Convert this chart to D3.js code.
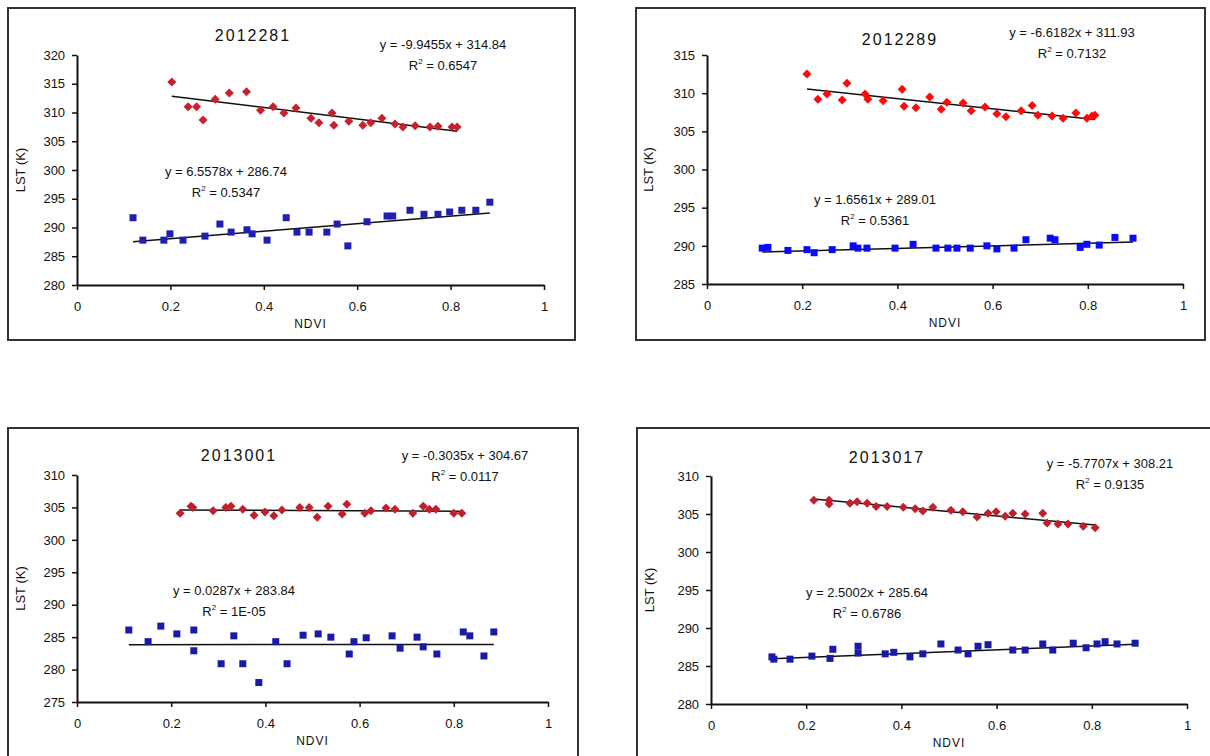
<!DOCTYPE html>
<html>
<head>
<meta charset="utf-8">
<script src="https://cdn.jsdelivr.net/npm/d3@7"></script>
<style>
  body { margin: 0; background: #fff; }
  text { font-family: Arial, "Liberation Sans", sans-serif; fill: #111; }
</style>
</head>
<body>
<script>
// ---- data ----
var titles = ["2012281", "2012289", "2013001", "2013017"];
var xTicks = [0, 0.2, 0.4, 0.6, 0.8, 1];
var yTicks1 = [280, 285, 290, 295, 300, 305, 310, 315, 320];
var yTicks2 = [285, 290, 295, 300, 305, 310, 315];
var yTicks3 = [275, 280, 285, 290, 295, 300, 305, 310];
var yTicks4 = [280, 285, 290, 295, 300, 305, 310];

// trendline coefficients [slope, intercept] and R2 labels
var redFit = [[-9.9455, 314.84], [-6.6182, 311.93], [-0.3035, 304.67], [-5.7707, 308.21]];
var blueFit = [[6.5578, 286.74], [1.6561, 289.01], [0.0287, 283.84], [2.5002, 285.64]];
var redEq = ["y = -9.9455x + 314.84", "y = -6.6182x + 311.93", "y = -0.3035x + 304.67", "y = -5.7707x + 308.21"];
var redR2 = ["0.6547", "0.7132", "0.0117", "0.9135"];
var blueEq = ["y = 6.5578x + 286.74", "y = 1.6561x + 289.01", "y = 0.0287x + 283.84", "y = 2.5002x + 285.64"];
var blueR2 = ["0.5347", "0.5361", "1E-05", "0.6786"];

var red1 = [[0.203,315.3],[0.238,311.0],[0.256,311.0],[0.27,308.7],[0.296,312.3],[0.326,313.4],[0.363,313.6],
  [0.393,310.4],[0.42,311.0],[0.443,309.9],[0.469,310.8],[0.501,309.0],[0.518,308.2],[0.546,309.9],[0.55,307.8],
  [0.582,308.5],[0.612,307.8],[0.629,308.2],[0.653,309.0],[0.681,308.0],[0.698,307.5],[0.724,307.7],[0.756,307.5],
  [0.773,307.6],[0.803,307.5],[0.814,307.5]];
var blue1 = [[0.12,291.7],[0.141,287.8],[0.186,287.8],[0.199,288.9],[0.227,287.8],[0.274,288.5],[0.306,290.6],
  [0.33,289.2],[0.364,289.6],[0.375,288.9],[0.407,287.8],[0.448,291.7],[0.471,289.2],[0.497,289.2],[0.535,289.2],
  [0.557,290.6],[0.58,286.8],[0.621,291.0],[0.664,292.0],[0.676,292.0],[0.713,293.0],[0.743,292.3],[0.773,292.3],
  [0.798,292.7],[0.824,293.0],[0.854,293.0],[0.884,294.4]];
var red2 = [[0.21,312.5],[0.233,309.2],[0.252,309.9],[0.284,309.1],[0.294,311.3],[0.332,309.9],[0.338,309.2],
  [0.37,309.0],[0.41,310.5],[0.414,308.3],[0.439,308.1],[0.468,309.5],[0.492,307.9],[0.504,308.8],[0.538,308.7],
  [0.555,307.7],[0.584,308.2],[0.609,307.3],[0.628,306.9],[0.66,307.7],[0.683,308.4],[0.695,307.1],[0.725,307.0],
  [0.748,306.7],[0.775,307.4],[0.798,306.7],[0.809,307.0],[0.815,307.1]];
var blue2 = [[0.116,289.7],[0.128,289.8],[0.17,289.4],[0.21,289.5],[0.225,289.1],[0.263,289.5],[0.307,290.0],
  [0.317,289.7],[0.336,289.7],[0.395,289.7],[0.433,290.2],[0.481,289.7],[0.506,289.7],[0.525,289.7],[0.553,289.7],
  [0.588,290.0],[0.609,289.6],[0.645,289.7],[0.67,290.8],[0.721,291.0],[0.731,290.8],[0.784,289.8],[0.798,290.2],
  [0.824,290.1],[0.857,291.1],[0.895,291.0]];
var red3 = [[0.219,304.1],[0.242,305.2],[0.246,305.0],[0.289,304.5],[0.316,305.0],[0.327,305.2],[0.352,304.7],
  [0.376,303.8],[0.399,304.3],[0.418,303.7],[0.435,304.6],[0.473,305.0],[0.493,305.0],[0.51,303.5],[0.533,305.2],
  [0.563,304.0],[0.573,305.5],[0.611,304.1],[0.624,304.5],[0.656,304.9],[0.675,304.7],[0.713,304.1],[0.735,305.2],
  [0.748,304.7],[0.762,304.7],[0.8,304.1],[0.817,304.1]];
var blue3 = [[0.11,286.1],[0.151,284.3],[0.178,286.7],[0.212,285.5],[0.248,286.1],[0.248,282.9],[0.306,280.9],
  [0.333,285.2],[0.352,280.9],[0.386,278.0],[0.422,284.3],[0.446,280.9],[0.48,285.3],[0.512,285.5],[0.539,285.0],
  [0.578,282.4],[0.588,284.3],[0.614,284.9],[0.669,285.2],[0.686,283.3],[0.722,285.0],[0.735,283.5],[0.764,282.4],
  [0.82,285.8],[0.834,285.2],[0.864,282.1],[0.885,285.8]];
var red4 = [[0.216,306.8],[0.248,306.8],[0.248,306.3],[0.292,306.4],[0.307,306.6],[0.328,306.4],[0.347,306.0],
  [0.37,306.0],[0.404,305.9],[0.429,305.7],[0.445,305.4],[0.466,305.9],[0.504,305.5],[0.529,305.3],[0.559,304.6],
  [0.582,305.1],[0.599,305.3],[0.618,304.7],[0.634,305.1],[0.66,305.0],[0.697,305.1],[0.706,303.8],[0.729,303.7],
  [0.75,303.7],[0.782,303.4],[0.807,303.2]];
var blue4 = [[0.128,286.2],[0.132,285.9],[0.166,285.9],[0.212,286.3],[0.25,286.0],[0.256,287.2],[0.309,287.6],
  [0.309,286.7],[0.366,286.6],[0.384,286.8],[0.418,286.2],[0.445,286.6],[0.483,287.9],[0.519,287.1],[0.54,286.6],
  [0.561,287.6],[0.582,287.8],[0.634,287.1],[0.66,287.1],[0.697,287.9],[0.718,287.1],[0.761,288.0],[0.788,287.4],
  [0.811,287.9],[0.828,288.2],[0.853,287.9],[0.891,288.0]];

// ---- layout ----
var panels = [
  {frame: [8, 8, 575, 340], xr: [77, 544], yr: [285, 55], yd: [280, 320], yt: yTicks1, red: red1, blue: blue1,
   redC: "#c8202c", blueC: "#1f1fb0", title: [253, 41], reqPos: [443, 49], beqPos: [226, 176]},
  {frame: [636, 8, 1205, 340], xr: [707, 1183], yr: [284, 55], yd: [285, 315], yt: yTicks2, red: red2, blue: blue2,
   redC: "#ff0a0a", blueC: "#0a0aff", title: [900, 45], reqPos: [1072, 37], beqPos: [875, 204]},
  {frame: [8, 428, 578, 790], xr: [77, 548], yr: [702, 475], yd: [275, 310], yt: yTicks3, red: red3, blue: blue3,
   redC: "#c0202c", blueC: "#1a1aa8", title: [239, 461], reqPos: [465, 460], beqPos: [234, 595]},
  {frame: [637, 428, 1222, 790], xr: [711, 1187], yr: [704, 476], yd: [280, 310], yt: yTicks4, red: red4, blue: blue4,
   redC: "#c0202c", blueC: "#1a1aa8", title: [887, 463], reqPos: [1110, 468], beqPos: [867, 597]}
];

var svg = d3.select("body").append("svg")
    .attr("width", 1210)
    .attr("height", 756);

panels.forEach(function(p, i) {
  var g = svg.append("g");
  var x = d3.scaleLinear().domain([0, 1]).range(p.xr);
  var y = d3.scaleLinear().domain(p.yd).range(p.yr);

  // frame
  g.append("rect")
    .attr("x", p.frame[0]).attr("y", p.frame[1])
    .attr("width", p.frame[2] - p.frame[0]).attr("height", p.frame[3] - p.frame[1])
    .attr("fill", "#fff").attr("stroke", "#333").attr("stroke-width", 2);

  // axes
  var yAxis = g.append("g")
    .attr("transform", "translate(" + p.xr[0] + ",0)")
    .call(d3.axisLeft(y).tickValues(p.yt).tickSize(5).tickSizeOuter(0).tickFormat(d3.format("d")));
  var xAxis = g.append("g")
    .attr("transform", "translate(0," + p.yr[0] + ")")
    .call(d3.axisBottom(x).tickValues(xTicks).tickSize(5).tickSizeOuter(0)
      .tickFormat(function(d) { return d === 0 || d === 1 ? d : d3.format(".1f")(d); }));
  [xAxis, yAxis].forEach(function(a) {
    a.select(".domain").attr("stroke", "#111").attr("stroke-width", 2);
    a.selectAll(".tick line").attr("stroke", "#111").attr("stroke-width", 1.5);
    a.selectAll(".tick text").attr("font-size", 13).attr("fill", "#111")
      .attr("font-family", "Arial, 'Liberation Sans', sans-serif");
  });
  xAxis.selectAll(".tick text").attr("dy", "1.35em");
  yAxis.selectAll(".tick text").attr("dx", "-0.3em");

  // axis titles
  g.append("text")
    .attr("x", (p.xr[0] + p.xr[1]) / 2).attr("y", p.yr[0] + 43)
    .attr("text-anchor", "middle").attr("font-size", 12).attr("letter-spacing", 1).text("NDVI");
  g.append("text")
    .attr("transform", "translate(" + (p.frame[0] + 17) + "," + ((p.yr[0] + p.yr[1]) / 2) + ") rotate(-90)")
    .attr("text-anchor", "middle").attr("font-size", 13).text("LST (K)");

  // chart title
  g.append("text")
    .attr("x", p.title[0]).attr("y", p.title[1])
    .attr("text-anchor", "middle").attr("font-size", 16).attr("letter-spacing", 2)
    .text(titles[i]);

  // trendlines
  [[p.red, redFit[i]], [p.blue, blueFit[i]]].forEach(function(s) {
    var ext = d3.extent(s[0], function(d) { return d[0]; });
    g.append("line")
      .attr("x1", x(ext[0])).attr("y1", y(s[1][0] * ext[0] + s[1][1]))
      .attr("x2", x(ext[1])).attr("y2", y(s[1][0] * ext[1] + s[1][1]))
      .attr("stroke", "#111").attr("stroke-width", 1.5);
  });

  // points
  var diamond = "M0,-4.5L4.5,0L0,4.5L-4.5,0Z";
  g.selectAll(".red").data(p.red).enter().append("path")
    .attr("class", "red")
    .attr("d", diamond)
    .attr("transform", function(d) { return "translate(" + x(d[0]) + "," + y(d[1]) + ")"; })
    .attr("fill", p.redC);
  g.selectAll(".blue").data(p.blue).enter().append("rect")
    .attr("class", "blue")
    .attr("x", function(d) { return x(d[0]) - 3.5; })
    .attr("y", function(d) { return y(d[1]) - 3.5; })
    .attr("width", 7).attr("height", 7)
    .attr("fill", p.blueC);

  // equation labels
  [[p.reqPos, redEq[i], redR2[i]], [p.beqPos, blueEq[i], blueR2[i]]].forEach(function(e) {
    g.append("text").attr("x", e[0][0]).attr("y", e[0][1])
      .attr("text-anchor", "middle").attr("font-size", 13).text(e[1]);
    var r = g.append("text").attr("x", e[0][0]).attr("y", e[0][1] + 21)
      .attr("text-anchor", "middle").attr("font-size", 13);
    r.append("tspan").text("R");
    r.append("tspan").attr("dy", -6).attr("font-size", 8).text("2");
    r.append("tspan").attr("dy", 6).text(" = " + e[2]);
  });
});
</script>
</body>
</html>
